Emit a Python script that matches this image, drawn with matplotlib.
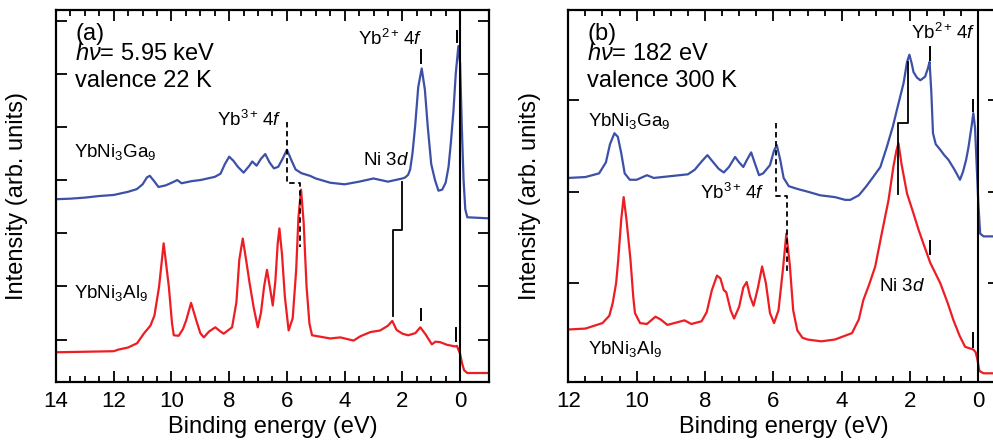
import numpy as np
import matplotlib
matplotlib.use('Agg')
import matplotlib.pyplot as plt

plt.rcParams['font.family'] = ['Liberation Sans', 'DejaVu Sans']
plt.rcParams['mathtext.fontset'] = 'custom'
plt.rcParams['mathtext.rm'] = 'Liberation Sans'
plt.rcParams['mathtext.it'] = 'Liberation Sans:italic'

# panel (a): hv = 5.95 keV, 22 K
energy_a_ga = [14.0, 13.5, 13.0, 12.5, 12.0, 11.5, 11.2, 11.0, 10.85, 10.75, 10.6, 10.45, 10.2,
               9.95, 9.8, 9.65, 9.3, 9.0, 8.5, 8.3, 8.15, 8.0, 7.85, 7.7, 7.5, 7.3, 7.2, 7.05,
               6.9, 6.75, 6.6, 6.45, 6.3, 6.15, 6.0, 5.85, 5.7, 5.5, 5.2, 5.0, 4.5, 4.0, 3.5,
               3.0, 2.5, 2.0, 1.9, 1.8, 1.73, 1.65, 1.56, 1.45, 1.33, 1.22, 1.12, 1.0, 0.87,
               0.75, 0.62, 0.5, 0.4, 0.32, 0.23, 0.15, 0.06, 0.0, -0.06, -0.12, -0.18, -0.25, -1.0]
inten_a_ga = [2.64, 2.65, 2.67, 2.70, 2.72, 2.78, 2.83, 2.92, 3.05, 3.08, 2.98, 2.87, 2.90,
              2.96, 3.00, 2.94, 2.98, 3.00, 3.06, 3.12, 3.30, 3.44, 3.36, 3.25, 3.14, 3.27, 3.35, 3.27,
              3.40, 3.49, 3.33, 3.22, 3.25, 3.40, 3.57, 3.38, 3.20, 3.13, 3.08, 3.03, 2.95, 2.92, 2.97,
              3.03, 2.97, 3.03, 3.05, 3.10, 3.20, 3.50, 4.00, 4.75, 5.10, 4.70, 4.00, 3.30, 3.00,
              2.80, 2.82, 2.95, 3.25, 3.70, 4.30, 5.00, 5.52, 5.20, 4.00, 3.00, 2.45, 2.30, 2.28]

energy_a_al = [14.0, 13.0, 12.0, 11.84, 11.5, 11.19, 10.96, 10.73, 10.59, 10.43, 10.27, 10.09, 9.98,
               9.92, 9.75, 9.6, 9.49, 9.32, 9.14, 9.0, 8.88, 8.7, 8.48, 8.3, 8.19, 7.9, 7.75, 7.65,
               7.53, 7.4, 7.29, 7.15, 7.01, 6.9, 6.79, 6.69, 6.58, 6.49, 6.4, 6.32, 6.26, 6.17, 6.07,
               5.94, 5.8, 5.68, 5.6, 5.51, 5.42, 5.32, 5.22, 5.13, 4.5, 4.15, 3.69, 3.46, 3.11, 2.77,
               2.5, 2.35, 2.2, 2.0, 1.8, 1.55, 1.38, 1.2, 0.98, 0.85, 0.69, 0.45, 0.17, 0.11, 0.0,
               -0.07, -0.14, -0.25, -1.0]
inten_a_al = [-0.24, -0.23, -0.22, -0.19, -0.15, -0.07, 0.11, 0.26, 0.45, 0.99, 1.81, 0.99, 0.30,
              0.08, 0.07, 0.20, 0.36, 0.69, 0.36, 0.12, 0.04, 0.15, 0.23, 0.15, 0.11, 0.23, 0.70, 1.50,
              1.90, 1.45, 1.05, 0.60, 0.23, 0.50, 1.00, 1.31, 0.95, 0.64, 1.10, 1.80, 2.09, 1.60, 0.80,
              0.17, 0.40, 1.30, 2.30, 2.82, 2.20, 1.00, 0.30, 0.08, 0.02, 0.04, -0.02, 0.06, 0.14, 0.17,
              0.26, 0.35, 0.18, 0.11, 0.08, 0.12, 0.23, 0.10, -0.09, -0.04, -0.05, -0.10, -0.13, -0.12, -0.27,
              -0.45, -0.58, -0.63, -0.63]

# panel (b): hv = 182 eV, 300 K
energy_b_ga = [12.0, 11.5, 11.1, 10.9, 10.78, 10.65, 10.55, 10.45, 10.35, 10.2, 10.0, 9.7, 9.5, 9.0,
               8.5, 8.3, 8.1, 7.93, 7.8, 7.6, 7.45, 7.3, 7.12, 7.0, 6.88, 6.77, 6.65, 6.55, 6.42,
               6.3, 6.1, 5.98, 5.9, 5.8, 5.7, 5.55, 5.3, 5.0, 4.63, 4.2, 3.9, 3.75, 3.5, 3.3, 3.1,
               2.87, 2.68, 2.5, 2.39, 2.19, 2.09, 2.02, 1.95, 1.9, 1.8, 1.7, 1.56, 1.48, 1.43, 1.38,
               1.33, 1.25, 1.12, 1.0, 0.88, 0.7, 0.54, 0.45, 0.36, 0.29, 0.2, 0.15, 0.1, 0.05, 0.0,
               -0.05, -0.15, -0.6]
inten_b_ga = [1.15, 1.16, 1.20, 1.32, 1.52, 1.64, 1.60, 1.42, 1.20, 1.13, 1.13, 1.18, 1.15, 1.17,
              1.19, 1.24, 1.33, 1.40, 1.34, 1.25, 1.21, 1.27, 1.38, 1.32, 1.27, 1.35, 1.43, 1.32, 1.18,
              1.20, 1.29, 1.45, 1.51, 1.35, 1.15, 1.06, 1.03, 1.00, 0.96, 0.94, 0.91, 0.91, 0.96, 1.05, 1.15,
              1.27, 1.49, 1.72, 1.89, 2.19, 2.42, 2.50, 2.40, 2.31, 2.25, 2.22, 2.26, 2.35, 2.42, 2.10,
              1.64, 1.52, 1.46, 1.40, 1.35, 1.24, 1.13, 1.22, 1.35, 1.49, 1.72, 1.86, 1.70, 1.27, 0.85,
              0.54, 0.51, 0.51]

energy_b_al = [12.0, 11.5, 11.0, 10.8, 10.7, 10.6, 10.54, 10.45, 10.38, 10.3, 10.18, 10.1, 10.05,
               9.9, 9.7, 9.45, 9.3, 9.1, 8.9, 8.6, 8.4, 8.1, 7.95, 7.8, 7.65, 7.55, 7.45, 7.38, 7.25,
               7.15, 7.0, 6.88, 6.78, 6.68, 6.58, 6.45, 6.33, 6.22, 6.1, 5.98, 5.85, 5.72, 5.62, 5.52,
               5.42, 5.3, 5.15, 5.0, 4.6, 4.2, 3.7, 3.5, 3.37, 3.2, 3.02, 2.83, 2.63, 2.49, 2.4, 2.34,
               2.25, 2.15, 2.09, 1.9, 1.75, 1.61, 1.41, 1.12, 0.9, 0.73, 0.55, 0.39, 0.15, 0.08, 0.03,
               -0.02, -0.05, -0.15, -0.6]
inten_b_al = [-0.51, -0.50, -0.44, -0.36, -0.22, 0.00, 0.25, 0.70, 0.94, 0.70, 0.25, -0.15, -0.33,
              -0.44, -0.45, -0.37, -0.40, -0.46, -0.44, -0.41, -0.45, -0.42, -0.32, -0.08, 0.08, 0.05, -0.08, -0.10, -0.30,
              -0.39, -0.26, -0.05, 0.01, -0.15, -0.25, -0.05, 0.18, 0.00, -0.33, -0.44, -0.30, 0.15, 0.54, 0.20,
              -0.30, -0.52, -0.60, -0.62, -0.64, -0.62, -0.55, -0.40, -0.19, -0.02, 0.18, 0.54, 0.91, 1.27, 1.45, 1.53,
              1.30, 1.10, 0.98, 0.76, 0.58, 0.43, 0.22, 0.00, -0.22, -0.41, -0.58, -0.70, -0.73, -0.76, -0.84,
              -0.95, -0.97, -0.99, -0.99]

# peak guides: [energy, y0, y1]
yb2_ticks_a = [[1.34, 5.21, 5.45], [0.09, 5.60, 5.81], [1.34, 0.36, 0.58], [0.14, -0.02, 0.21]]
yb2_ticks_b = [[1.43, 2.44, 2.59], [0.15, 1.88, 2.00], [1.43, 0.32, 0.46], [0.15, -0.70, -0.55]]
yb3_guide_a = ([6.0, 6.0, 5.53, 5.53], [4.09, 2.94, 2.94, 1.74])
yb3_guide_b = ([5.92, 5.92, 5.6, 5.6], [1.75, 0.95, 0.95, 0.13])
ni_guide_a = ([2.0, 2.0, 2.33, 2.33], [2.96, 2.06, 2.06, 0.45])
ni_guide_b = ([2.05, 2.05, 2.34, 2.34], [2.42, 1.75, 1.75, 0.97])

blue = '#3d50a8'
red = '#ee1d23'

fig = plt.figure(figsize=(9.93, 4.46), dpi=100)
ax_a = fig.add_axes([0.0564, 0.1446, 0.436, 0.833])
ax_b = fig.add_axes([0.5723, 0.1446, 0.4337, 0.833])


def draw_panel(ax, e_ga, i_ga, e_al, i_al, xlim, ylim, yticks, ticks, yb3, ni, texts):
    ax.plot(e_ga, i_ga, color=blue, lw=1.6)
    ax.plot(e_al, i_al, color=red, lw=1.6)
    ax.axvline(0, color='black', lw=1.5)
    for e, y0, y1 in ticks:
        ax.plot([e, e], [y0, y1], color='black', lw=1.4)
    ax.plot(yb3[0], yb3[1], color='black', lw=1.3, ls=(0, (3, 2)))
    ax.plot(ni[0], ni[1], color='black', lw=1.3)
    for x, y, s in texts:
        ax.text(x, y, s, fontsize=13.5, ha='left', va='baseline')
    ax.set_xlim(xlim)
    ax.set_ylim(ylim)
    ax.set_xticks(np.arange(0, xlim[0] + 0.1, 2))
    ax.set_xticks(np.arange(0, xlim[0] + 0.1, 0.5), minor=True)
    ax.set_yticks(yticks)
    ax.set_yticklabels([])
    ax.tick_params(which='both', direction='in', top=True, right=True, width=1.3)
    ax.tick_params(which='major', length=8, labelsize=16, pad=7)
    ax.tick_params(which='minor', length=4)
    for sp in ax.spines.values():
        sp.set_linewidth(1.6)
    ax.set_xlabel('Binding energy (eV)', fontsize=17, labelpad=3)
    ax.set_ylabel('Intensity (arb. units)', fontsize=17, labelpad=13)


draw_panel(ax_a, energy_a_ga, inten_a_ga, energy_a_al, inten_a_al, (14, -1), (-0.79, 6.2),
           [0, 1, 2, 3, 4, 5, 6], yb2_ticks_a, yb3_guide_a, ni_guide_a,
           [(13.38, 3.44, 'YbNi$_3$Ga$_9$'), (13.38, 0.78, 'YbNi$_3$Al$_9$'),
            (8.42, 4.01, 'Yb$^{3+}\\,$4$f$'), (3.55, 5.55, 'Yb$^{2+}\\,$4$f$'),
            (3.35, 3.28, 'Ni 3$d$')])
draw_panel(ax_b, energy_b_ga, inten_b_ga, energy_b_al, inten_b_al, (12, -0.6), (-1.08, 2.99),
           [0, 1, 2], yb2_ticks_b, yb3_guide_b, ni_guide_b,
           [(11.43, 1.72, 'YbNi$_3$Ga$_9$'), (11.43, -0.78, 'YbNi$_3$Al$_9$'),
            (8.14, 0.92, 'Yb$^{3+}\\,$4$f$'), (1.98, 2.67, 'Yb$^{2+}\\,$4$f$'),
            (2.92, -0.09, 'Ni 3$d$')])

for ax, tag, lines in [(ax_a, '(a)', ['$h\\nu$= 5.95 keV', 'valence 22 K']),
                       (ax_b, '(b)', ['$h\\nu$= 182 eV', 'valence 300 K'])]:
    x0 = 19.0 / (ax.get_position().width * 993)
    ax.text(x0, 0.919, tag, transform=ax.transAxes, fontsize=17, va='baseline')
    ax.text(x0, 0.865, lines[0], transform=ax.transAxes, fontsize=17, va='baseline')
    ax.text(x0, 0.793, lines[1], transform=ax.transAxes, fontsize=17, va='baseline')

fig.savefig('out.png', dpi=100)
